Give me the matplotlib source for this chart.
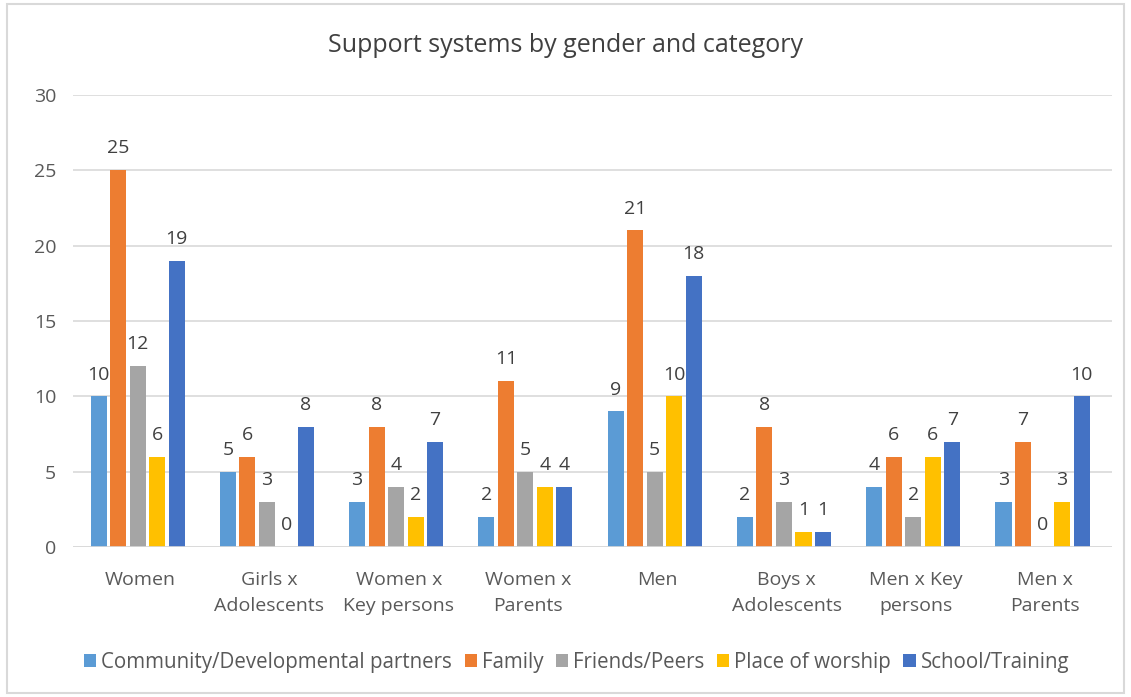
import numpy as np
import matplotlib.pyplot as plt
from matplotlib.patches import Rectangle

plt.rcParams['font.family'] = ['Open Sans', 'DejaVu Sans']

categories = ['Women', 'Girls x\nAdolescents', 'Women x\nKey persons', 'Women x\nParents',
              'Men', 'Boys x\nAdolescents', 'Men x Key\npersons', 'Men x\nParents']
series_names = ['Community/Developmental partners', 'Family', 'Friends/Peers',
                'Place of worship', 'School/Training']
community = [10, 5, 3, 2, 9, 2, 4, 3]
family = [25, 6, 8, 11, 21, 8, 6, 7]
friends = [12, 3, 4, 5, 5, 3, 2, 0]
worship = [6, 0, 2, 4, 10, 1, 6, 3]
school = [19, 8, 7, 4, 18, 1, 7, 10]
colors = ['#5B9BD5', '#ED7D31', '#A5A5A5', '#FFC000', '#4472C4']

series = [community, family, friends, worship, school]

fig = plt.figure(figsize=(11.31, 6.97), dpi=100)
ax = fig.add_axes([0.0645, 0.215, 0.919, 0.649])

x = np.arange(len(categories))
pitch = 0.151
width = 0.124
for i, (vals, name, col) in enumerate(zip(series, series_names, colors)):
    pos = x + (i - 2) * pitch - 0.02
    ax.bar(pos, vals, width, color=col, label=name, zorder=3)
    for xp, v in zip(pos, vals):
        ax.text(xp, v + 0.85, str(v), ha='center', va='bottom', fontsize=14, color='#404040')

ax.set_ylim(0, 30)
ax.set_xlim(-0.52, 7.52)
ax.set_yticks(range(0, 31, 5))
ax.yaxis.grid(True, color='#D9D9D9', linewidth=1.2, zorder=0)
for s in ax.spines.values():
    s.set_visible(False)
ax.axhline(0, color='#D9D9D9', linewidth=1.2, zorder=4)
ax.tick_params(axis='both', length=0, labelsize=14, labelcolor='#595959')
ax.tick_params(axis='y', pad=12)
ax.tick_params(axis='x', pad=17)
ax.set_xticks(x)
ax.set_xticklabels(categories, linespacing=1.6)

fig.text(0.5, 0.935, 'Support systems by gender and category', ha='center', va='center',
         fontsize=18, color='#404040')

leg = fig.legend(loc='center', bbox_to_anchor=(0.51, 0.05), ncol=5, frameon=False,
                 fontsize=14.8, handlelength=0.6, handleheight=0.6, handletextpad=0.25,
                 columnspacing=0.6, borderaxespad=0)
for t in leg.get_texts():
    t.set_color('#595959')

fig.patches.append(Rectangle((0.006, 0.006), 0.988, 0.988, transform=fig.transFigure,
                             fill=False, edgecolor='#D9D9D9', linewidth=1.5))

fig.savefig('out.png', dpi=100)
